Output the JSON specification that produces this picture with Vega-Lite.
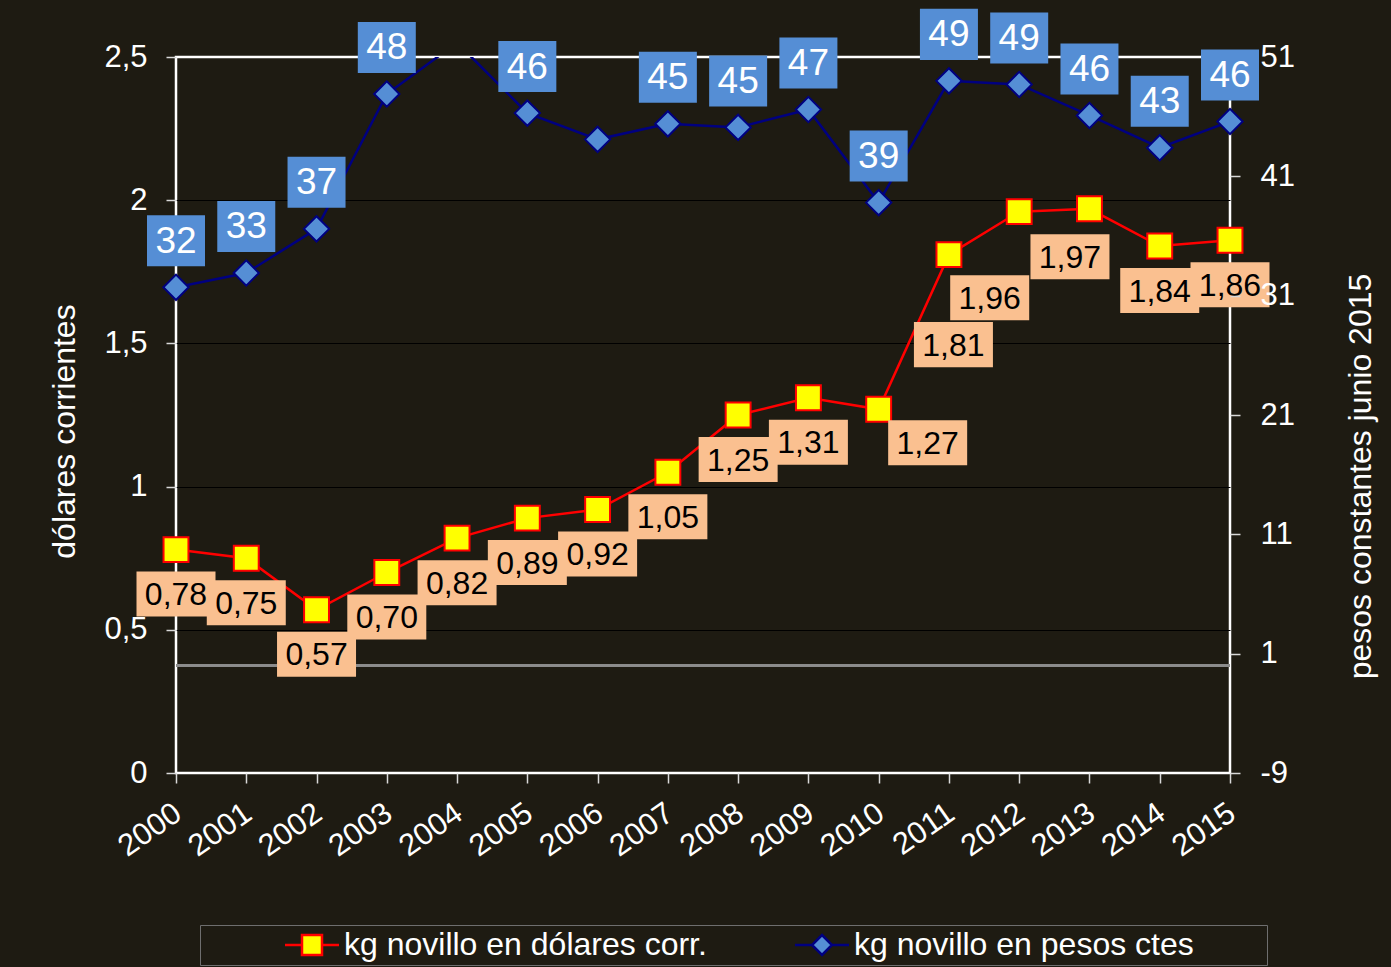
{
  "$schema": "https://vega.github.io/schema/vega-lite/v6.json",
  "width": 1054,
  "height": 716,
  "autosize": "none",
  "padding": {"left": 176, "top": 57, "right": 161, "bottom": 194},
  "background": "#1e1b12",
  "config": {
    "font": "Liberation Sans",
    "locale": {"number": {"decimal": ",", "thousands": ".", "grouping": [3], "currency": ["", ""], "minus": "-"}},
    "view": {"stroke": "#ffffff", "strokeWidth": 2.5},
    "axis": {
      "labelColor": "#ffffff", "labelFont": "Liberation Sans", "labelFontSize": 31,
      "titleColor": "#ffffff", "titleFont": "Liberation Sans", "titleFontSize": 32, "titleFontWeight": "normal",
      "tickColor": "#d9d9d9", "tickWidth": 1.5, "tickSize": 10, "domain": false
    }
  },
  "datasets": {
    "d": [
      {"year": 2000, "usd": 0.78, "pesos": 31.7},
      {"year": 2001, "usd": 0.75, "pesos": 32.9},
      {"year": 2002, "usd": 0.57, "pesos": 36.6},
      {"year": 2003, "usd": 0.70, "pesos": 47.9},
      {"year": 2004, "usd": 0.82, "pesos": 52.2},
      {"year": 2005, "usd": 0.89, "pesos": 46.3},
      {"year": 2006, "usd": 0.92, "pesos": 44.1},
      {"year": 2007, "usd": 1.05, "pesos": 45.4},
      {"year": 2008, "usd": 1.25, "pesos": 45.1},
      {"year": 2009, "usd": 1.31, "pesos": 46.6},
      {"year": 2010, "usd": 1.27, "pesos": 38.8},
      {"year": 2011, "usd": 1.81, "pesos": 49.0},
      {"year": 2012, "usd": 1.96, "pesos": 48.7},
      {"year": 2013, "usd": 1.97, "pesos": 46.1},
      {"year": 2014, "usd": 1.84, "pesos": 43.4},
      {"year": 2015, "usd": 1.86, "pesos": 45.6}
    ],
    "leg": [
      {"series": "kg novillo en dólares corr."},
      {"series": "kg novillo en pesos ctes"}
    ]
  },
  "resolve": {"scale": {"y": "independent"}},
  "layer": [
    {
      "data": {"name": "d"},
      "encoding": {
        "y": {"field": "pesos", "type": "quantitative",
          "scale": {"domain": [-9, 51], "nice": false, "zero": false},
          "axis": {"orient": "right", "values": [-9, 1, 11, 21, 31, 41, 51], "format": "d", "grid": false,
            "labelPadding": 20, "title": "pesos constantes junio 2015", "titleAngle": -90, "titleX": 130, "titleY": 419,
            "titleAlign": "center", "titleBaseline": "middle", "zindex": 1,
            "tickOpacity": {"condition": {"test": "datum.value == 51", "value": 0}, "value": 1},
            "encode": {"ticks": {"x": {"value": -10}}}}}
      },
      "layer": [
        {
          "mark": {"type": "rule", "color": "#8c8c8c", "strokeWidth": 2},
          "encoding": {"y": {"datum": 0, "type": "quantitative"}}
        },
        {
          "mark": {"type": "line", "color": "#000080", "strokeWidth": 2.5, "clip": true},
          "encoding": {"x": {"field": "year", "type": "quantitative", "scale": {"domain": [2000, 2015], "nice": false, "zero": false},
            "axis": {"values": [2000, 2001, 2002, 2003, 2004, 2005, 2006, 2007, 2008, 2009, 2010, 2011, 2012, 2013, 2014, 2015],
              "format": "d", "labelAngle": -35, "labelAlign": "right", "labelBaseline": "middle", "labelPadding": 27, "labelOffset": 2,
              "labelFontSize": 31, "grid": false, "title": null, "labelOverlap": false, "labelFlush": false,
              "encode": {"ticks": {"y": {"value": -10}}}}}}
        },
        {
          "transform": [{"filter": "datum.pesos <= 51"}],
          "mark": {"type": "point", "shape": "diamond", "filled": true, "fill": "#558ED5", "stroke": "#000080", "strokeWidth": 2, "size": 640, "opacity": 1},
          "encoding": {"x": {"field": "year", "type": "quantitative"}}
        },
        {
          "transform": [{"filter": "datum.year != 2004 && datum.year != 2006"}],
          "encoding": {"x": {"field": "year", "type": "quantitative"}},
          "layer": [
            {"mark": {"type": "point", "shape": "M-1,-0.88H1V0.88H-1Z", "filled": true, "fill": "#558ED5", "strokeWidth": 0, "size": 3364, "opacity": 1, "yOffset": -46.5}},
            {"mark": {"type": "text", "color": "#ffffff", "fontSize": 37, "font": "Liberation Sans", "baseline": "middle", "align": "center", "yOffset": -45.5},
             "encoding": {"text": {"field": "pesos", "type": "quantitative", "format": ".0f"}}}
          ]
        }
      ]
    },
    {
      "data": {"name": "d"},
      "encoding": {
        "x": {"field": "year", "type": "quantitative", "scale": {"domain": [2000, 2015], "nice": false, "zero": false}},
        "y": {"field": "usd", "type": "quantitative",
          "scale": {"domain": [0, 2.5], "nice": false, "zero": false},
          "axis": {"orient": "left", "values": [0, 0.5, 1, 1.5, 2, 2.5], "format": ".1~f", "grid": true,
            "gridColor": "#000000", "gridWidth": 1,
            "gridOpacity": {"condition": {"test": "datum.value == 0 || datum.value == 2.5", "value": 0}, "value": 1},
            "labelPadding": 19, "title": "dólares corrientes", "titleAngle": -90, "titleX": -112, "titleY": 374,
            "titleAlign": "center", "titleBaseline": "middle",
            "encode": {"ticks": {"x": {"value": 10}}}}}
      },
      "layer": [
        {"mark": {"type": "line", "color": "#ff0000", "strokeWidth": 2.5}},
        {"mark": {"type": "point", "shape": "square", "filled": true, "fill": "#ffff00", "stroke": "#ff0000", "strokeWidth": 2, "size": 620, "opacity": 1}},
        {
          "transform": [{"filter": "datum.year < 2010 || datum.year > 2013"}],
          "layer": [
            {"mark": {"type": "point", "shape": "M-1,-0.57H1V0.57H-1Z", "filled": true, "fill": "#FAC090", "strokeWidth": 0, "size": 6241, "opacity": 1, "yOffset": 44.5}},
            {"mark": {"type": "text", "color": "#000000", "fontSize": 32, "font": "Liberation Sans", "baseline": "middle", "align": "center", "yOffset": 45.5},
             "encoding": {"text": {"field": "usd", "type": "quantitative", "format": ".2f"}}}
          ]
        },
        {
          "transform": [{"filter": "datum.year == 2010"}],
          "layer": [
            {"mark": {"type": "point", "shape": "M-1,-0.57H1V0.57H-1Z", "filled": true, "fill": "#FAC090", "strokeWidth": 0, "size": 6241, "opacity": 1, "xOffset": 49, "yOffset": 33.5}},
            {"mark": {"type": "text", "color": "#000000", "fontSize": 32, "font": "Liberation Sans", "baseline": "middle", "align": "center", "xOffset": 49, "yOffset": 34.5},
             "encoding": {"text": {"field": "usd", "type": "quantitative", "format": ".2f"}}}
          ]
        },
        {
          "transform": [{"filter": "datum.year == 2011"}],
          "layer": [
            {"mark": {"type": "point", "shape": "M-1,-0.57H1V0.57H-1Z", "filled": true, "fill": "#FAC090", "strokeWidth": 0, "size": 6241, "opacity": 1, "xOffset": 4.5, "yOffset": 90}},
            {"mark": {"type": "text", "color": "#000000", "fontSize": 32, "font": "Liberation Sans", "baseline": "middle", "align": "center", "xOffset": 4.5, "yOffset": 91},
             "encoding": {"text": {"field": "usd", "type": "quantitative", "format": ".2f"}}}
          ]
        },
        {
          "transform": [{"filter": "datum.year == 2012"}],
          "layer": [
            {"mark": {"type": "point", "shape": "M-1,-0.57H1V0.57H-1Z", "filled": true, "fill": "#FAC090", "strokeWidth": 0, "size": 6241, "opacity": 1, "xOffset": -29.5, "yOffset": 86}},
            {"mark": {"type": "text", "color": "#000000", "fontSize": 32, "font": "Liberation Sans", "baseline": "middle", "align": "center", "xOffset": -29.5, "yOffset": 87},
             "encoding": {"text": {"field": "usd", "type": "quantitative", "format": ".2f"}}}
          ]
        },
        {
          "transform": [{"filter": "datum.year == 2013"}],
          "layer": [
            {"mark": {"type": "point", "shape": "M-1,-0.57H1V0.57H-1Z", "filled": true, "fill": "#FAC090", "strokeWidth": 0, "size": 6241, "opacity": 1, "xOffset": -19.5, "yOffset": 48}},
            {"mark": {"type": "text", "color": "#000000", "fontSize": 32, "font": "Liberation Sans", "baseline": "middle", "align": "center", "xOffset": -19.5, "yOffset": 49},
             "encoding": {"text": {"field": "usd", "type": "quantitative", "format": ".2f"}}}
          ]
        },
        {
          "data": {"name": "leg"},
          "transform": [{"filter": "false"}],
          "mark": {"type": "point", "filled": true, "size": 400, "strokeWidth": 2.5, "opacity": 1},
          "encoding": {
            "x": {"datum": 2000, "type": "quantitative"},
            "y": {"datum": 0, "type": "quantitative"},
            "shape": {"field": "series", "type": "nominal",
              "scale": {"domain": ["kg novillo en dólares corr.", "kg novillo en pesos ctes"],
                "range": ["M-2.7,0H-1M1,0H2.7M-1,-1H1V1H-1Z", "M-2.7,0H-1M1,0H2.7M0,-1L1,0L0,1L-1,0Z"]},
              "legend": {"orient": "none", "legendX": 24, "legendY": 868, "direction": "horizontal",
                "title": " ", "titleOrient": "left", "titlePadding": 92, "titleFontSize": 4,
                "strokeColor": "#6e6e6e", "padding": 4,
                "labelFont": "Liberation Sans", "labelFontSize": 32, "labelColor": "#ffffff", "labelLimit": 1000,
                "symbolSize": 400, "symbolStrokeWidth": 2.5, "labelOffset": 16, "columnPadding": 83,
                "labelExpr": "indexof(datum.label, 'pesos') >= 0 ? datum.label + '\u2800\u2800\u2800' : datum.label"}},
            "fill": {"field": "series", "type": "nominal",
              "scale": {"domain": ["kg novillo en dólares corr.", "kg novillo en pesos ctes"], "range": ["#ffff00", "#558ED5"]}},
            "stroke": {"field": "series", "type": "nominal",
              "scale": {"domain": ["kg novillo en dólares corr.", "kg novillo en pesos ctes"], "range": ["#ff0000", "#000080"]}}
          }
        }
      ]
    }
  ]
}
